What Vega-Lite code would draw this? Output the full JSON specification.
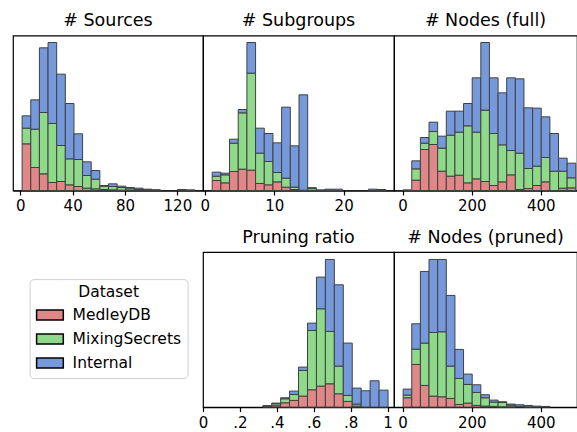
{
  "$schema": "https://vega.github.io/schema/vega-lite/v6.json",
  "background": "white",
  "padding": {"left": 12, "top": 10.5, "right": 0, "bottom": 0},
  "config": {
    "view": {"stroke": "black", "strokeWidth": 1.2},
    "font": "DejaVu Sans",
    "title": {"font": "DejaVu Sans", "fontSize": 17.5, "fontWeight": "normal", "color": "black", "offset": 6, "anchor": "middle", "frame": "group"},
    "axisX": {"grid": false, "title": null, "tickColor": "black", "tickSize": 4.5, "tickWidth": 1.2, "domainColor": "black", "domainWidth": 1.2, "labelFont": "DejaVu Sans", "labelFontSize": 15, "labelColor": "black", "labelPadding": 3.5, "labelFlush": false, "labelOverlap": false}
  },
  "data": {"values": [
    {"p":1,"d":"MedleyDB","b0":1,"b1":7.6,"n":140},{"p":1,"d":"MixingSecrets","b0":1,"b1":7.6,"n":47},{"p":1,"d":"Internal","b0":1,"b1":7.6,"n":37},
    {"p":1,"d":"MedleyDB","b0":7.6,"b1":14.2,"n":69},{"p":1,"d":"MixingSecrets","b0":7.6,"b1":14.2,"n":115},{"p":1,"d":"Internal","b0":7.6,"b1":14.2,"n":88},
    {"p":1,"d":"MedleyDB","b0":14.2,"b1":20.8,"n":50},{"p":1,"d":"MixingSecrets","b0":14.2,"b1":20.8,"n":184},{"p":1,"d":"Internal","b0":14.2,"b1":20.8,"n":194},
    {"p":1,"d":"MedleyDB","b0":20.8,"b1":27.4,"n":24},{"p":1,"d":"MixingSecrets","b0":20.8,"b1":27.4,"n":177},{"p":1,"d":"Internal","b0":20.8,"b1":27.4,"n":243},
    {"p":1,"d":"MedleyDB","b0":27.4,"b1":34,"n":27},{"p":1,"d":"MixingSecrets","b0":27.4,"b1":34,"n":108},{"p":1,"d":"Internal","b0":27.4,"b1":34,"n":214},
    {"p":1,"d":"MedleyDB","b0":34,"b1":40.6,"n":17},{"p":1,"d":"MixingSecrets","b0":34,"b1":40.6,"n":78},{"p":1,"d":"Internal","b0":34,"b1":40.6,"n":166},
    {"p":1,"d":"MedleyDB","b0":40.6,"b1":47.2,"n":12},{"p":1,"d":"MixingSecrets","b0":40.6,"b1":47.2,"n":81},{"p":1,"d":"Internal","b0":40.6,"b1":47.2,"n":77},
    {"p":1,"d":"MedleyDB","b0":47.2,"b1":53.8,"n":7},{"p":1,"d":"MixingSecrets","b0":47.2,"b1":53.8,"n":38},{"p":1,"d":"Internal","b0":47.2,"b1":53.8,"n":41},
    {"p":1,"d":"MedleyDB","b0":53.8,"b1":60.4,"n":5},{"p":1,"d":"MixingSecrets","b0":53.8,"b1":60.4,"n":29},{"p":1,"d":"Internal","b0":53.8,"b1":60.4,"n":26},
    {"p":1,"d":"MedleyDB","b0":60.4,"b1":67,"n":3},{"p":1,"d":"MixingSecrets","b0":60.4,"b1":67,"n":10},{"p":1,"d":"Internal","b0":60.4,"b1":67,"n":2},
    {"p":1,"d":"MedleyDB","b0":67,"b1":73.6,"n":2},{"p":1,"d":"MixingSecrets","b0":67,"b1":73.6,"n":10},{"p":1,"d":"Internal","b0":67,"b1":73.6,"n":8},
    {"p":1,"d":"MedleyDB","b0":73.6,"b1":80.2,"n":1},{"p":1,"d":"MixingSecrets","b0":73.6,"b1":80.2,"n":8},{"p":1,"d":"Internal","b0":73.6,"b1":80.2,"n":4},
    {"p":1,"d":"MixingSecrets","b0":80.2,"b1":86.8,"n":5},{"p":1,"d":"Internal","b0":80.2,"b1":86.8,"n":4},
    {"p":1,"d":"MixingSecrets","b0":86.8,"b1":93.4,"n":3},{"p":1,"d":"Internal","b0":86.8,"b1":93.4,"n":4},
    {"p":1,"d":"MixingSecrets","b0":93.4,"b1":100,"n":2},{"p":1,"d":"Internal","b0":93.4,"b1":100,"n":2},
    {"p":1,"d":"MixingSecrets","b0":100,"b1":106.6,"n":1},{"p":1,"d":"Internal","b0":100,"b1":106.6,"n":1},
    {"p":1,"d":"Internal","b0":119.8,"b1":126.4,"n":3},
    {"p":1,"d":"Internal","b0":126.4,"b1":133,"n":2},

    {"p":2,"d":"MedleyDB","b0":1,"b1":2.25,"n":30},{"p":2,"d":"MixingSecrets","b0":1,"b1":2.25,"n":13},{"p":2,"d":"Internal","b0":1,"b1":2.25,"n":12},
    {"p":2,"d":"MedleyDB","b0":2.25,"b1":3.5,"n":23},{"p":2,"d":"MixingSecrets","b0":2.25,"b1":3.5,"n":24},{"p":2,"d":"Internal","b0":2.25,"b1":3.5,"n":5},
    {"p":2,"d":"MedleyDB","b0":3.5,"b1":4.75,"n":57},{"p":2,"d":"MixingSecrets","b0":3.5,"b1":4.75,"n":85},{"p":2,"d":"Internal","b0":3.5,"b1":4.75,"n":12},
    {"p":2,"d":"MedleyDB","b0":4.75,"b1":6,"n":64},{"p":2,"d":"MixingSecrets","b0":4.75,"b1":6,"n":169},{"p":2,"d":"Internal","b0":4.75,"b1":6,"n":10},
    {"p":2,"d":"MedleyDB","b0":6,"b1":7.25,"n":61},{"p":2,"d":"MixingSecrets","b0":6,"b1":7.25,"n":291},{"p":2,"d":"Internal","b0":6,"b1":7.25,"n":92},
    {"p":2,"d":"MedleyDB","b0":7.25,"b1":8.5,"n":21},{"p":2,"d":"MixingSecrets","b0":7.25,"b1":8.5,"n":91},{"p":2,"d":"Internal","b0":7.25,"b1":8.5,"n":75},
    {"p":2,"d":"MedleyDB","b0":8.5,"b1":9.75,"n":17},{"p":2,"d":"MixingSecrets","b0":8.5,"b1":9.75,"n":70},{"p":2,"d":"Internal","b0":8.5,"b1":9.75,"n":84},
    {"p":2,"d":"MedleyDB","b0":9.75,"b1":11,"n":26},{"p":2,"d":"MixingSecrets","b0":9.75,"b1":11,"n":28},{"p":2,"d":"Internal","b0":9.75,"b1":11,"n":89},
    {"p":2,"d":"MedleyDB","b0":11,"b1":12.25,"n":10},{"p":2,"d":"MixingSecrets","b0":11,"b1":12.25,"n":27},{"p":2,"d":"Internal","b0":11,"b1":12.25,"n":213},
    {"p":2,"d":"MedleyDB","b0":12.25,"b1":13.5,"n":3},{"p":2,"d":"MixingSecrets","b0":12.25,"b1":13.5,"n":7},{"p":2,"d":"Internal","b0":12.25,"b1":13.5,"n":124},
    {"p":2,"d":"MixingSecrets","b0":13.5,"b1":14.75,"n":1},{"p":2,"d":"Internal","b0":13.5,"b1":14.75,"n":286},
    {"p":2,"d":"MedleyDB","b0":14.75,"b1":16,"n":6},{"p":2,"d":"MixingSecrets","b0":14.75,"b1":16,"n":1},{"p":2,"d":"Internal","b0":14.75,"b1":16,"n":1},
    {"p":2,"d":"Internal","b0":16,"b1":17.25,"n":2},
    {"p":2,"d":"MixingSecrets","b0":17.25,"b1":18.5,"n":1},{"p":2,"d":"Internal","b0":17.25,"b1":18.5,"n":3},
    {"p":2,"d":"Internal","b0":18.5,"b1":19.75,"n":4},
    {"p":2,"d":"Internal","b0":23.5,"b1":24.75,"n":4},
    {"p":2,"d":"Internal","b0":24.75,"b1":26,"n":3},

    {"p":3,"d":"MixingSecrets","b0":0,"b1":25,"n":2},
    {"p":3,"d":"MedleyDB","b0":25,"b1":50,"n":31},{"p":3,"d":"MixingSecrets","b0":25,"b1":50,"n":34},{"p":3,"d":"Internal","b0":25,"b1":50,"n":24},
    {"p":3,"d":"MedleyDB","b0":50,"b1":75,"n":123},{"p":3,"d":"MixingSecrets","b0":50,"b1":75,"n":19},{"p":3,"d":"Internal","b0":50,"b1":75,"n":17},
    {"p":3,"d":"MedleyDB","b0":75,"b1":100,"n":138},{"p":3,"d":"MixingSecrets","b0":75,"b1":100,"n":39},{"p":3,"d":"Internal","b0":75,"b1":100,"n":28},
    {"p":3,"d":"MedleyDB","b0":100,"b1":125,"n":58},{"p":3,"d":"MixingSecrets","b0":100,"b1":125,"n":69},{"p":3,"d":"Internal","b0":100,"b1":125,"n":36},
    {"p":3,"d":"MedleyDB","b0":125,"b1":150,"n":43},{"p":3,"d":"MixingSecrets","b0":125,"b1":150,"n":123},{"p":3,"d":"Internal","b0":125,"b1":150,"n":72},
    {"p":3,"d":"MedleyDB","b0":150,"b1":175,"n":46},{"p":3,"d":"MixingSecrets","b0":150,"b1":175,"n":129},{"p":3,"d":"Internal","b0":150,"b1":175,"n":63},
    {"p":3,"d":"MedleyDB","b0":175,"b1":200,"n":23},{"p":3,"d":"MixingSecrets","b0":175,"b1":200,"n":171},{"p":3,"d":"Internal","b0":175,"b1":200,"n":67},
    {"p":3,"d":"MedleyDB","b0":200,"b1":225,"n":35},{"p":3,"d":"MixingSecrets","b0":200,"b1":225,"n":140},{"p":3,"d":"Internal","b0":200,"b1":225,"n":163},
    {"p":3,"d":"MedleyDB","b0":225,"b1":250,"n":27},{"p":3,"d":"MixingSecrets","b0":225,"b1":250,"n":214},{"p":3,"d":"Internal","b0":225,"b1":250,"n":203},
    {"p":3,"d":"MedleyDB","b0":250,"b1":275,"n":15},{"p":3,"d":"MixingSecrets","b0":250,"b1":275,"n":156},{"p":3,"d":"Internal","b0":250,"b1":275,"n":167},
    {"p":3,"d":"MedleyDB","b0":275,"b1":300,"n":26},{"p":3,"d":"MixingSecrets","b0":275,"b1":300,"n":111},{"p":3,"d":"Internal","b0":275,"b1":300,"n":156},
    {"p":3,"d":"MedleyDB","b0":300,"b1":325,"n":47},{"p":3,"d":"MixingSecrets","b0":300,"b1":325,"n":73},{"p":3,"d":"Internal","b0":300,"b1":325,"n":218},
    {"p":3,"d":"MedleyDB","b0":325,"b1":350,"n":3},{"p":3,"d":"MixingSecrets","b0":325,"b1":350,"n":109},{"p":3,"d":"Internal","b0":325,"b1":350,"n":223},
    {"p":3,"d":"MedleyDB","b0":350,"b1":375,"n":6},{"p":3,"d":"MixingSecrets","b0":350,"b1":375,"n":60},{"p":3,"d":"Internal","b0":350,"b1":375,"n":182},
    {"p":3,"d":"MedleyDB","b0":375,"b1":400,"n":15},{"p":3,"d":"MixingSecrets","b0":375,"b1":400,"n":58},{"p":3,"d":"Internal","b0":375,"b1":400,"n":174},
    {"p":3,"d":"MedleyDB","b0":400,"b1":425,"n":26},{"p":3,"d":"MixingSecrets","b0":400,"b1":425,"n":73},{"p":3,"d":"Internal","b0":400,"b1":425,"n":122},
    {"p":3,"d":"MixingSecrets","b0":425,"b1":450,"n":58},{"p":3,"d":"Internal","b0":425,"b1":450,"n":113},
    {"p":3,"d":"MedleyDB","b0":450,"b1":475,"n":7},{"p":3,"d":"MixingSecrets","b0":450,"b1":475,"n":51},{"p":3,"d":"Internal","b0":450,"b1":475,"n":39},
    {"p":3,"d":"MedleyDB","b0":475,"b1":500,"n":8},{"p":3,"d":"MixingSecrets","b0":475,"b1":500,"n":30},{"p":3,"d":"Internal","b0":475,"b1":500,"n":44},

    {"p":4,"d":"MedleyDB","b0":0.321,"b1":0.3695,"n":1},{"p":4,"d":"MixingSecrets","b0":0.321,"b1":0.3695,"n":2},{"p":4,"d":"Internal","b0":0.321,"b1":0.3695,"n":1},
    {"p":4,"d":"MedleyDB","b0":0.3695,"b1":0.418,"n":4},{"p":4,"d":"MixingSecrets","b0":0.3695,"b1":0.418,"n":6},{"p":4,"d":"Internal","b0":0.3695,"b1":0.418,"n":2},
    {"p":4,"d":"MedleyDB","b0":0.418,"b1":0.4665,"n":13},{"p":4,"d":"MixingSecrets","b0":0.418,"b1":0.4665,"n":12},{"p":4,"d":"Internal","b0":0.418,"b1":0.4665,"n":3},
    {"p":4,"d":"MedleyDB","b0":0.4665,"b1":0.515,"n":20},{"p":4,"d":"MixingSecrets","b0":0.4665,"b1":0.515,"n":18},{"p":4,"d":"Internal","b0":0.4665,"b1":0.515,"n":10},
    {"p":4,"d":"MedleyDB","b0":0.515,"b1":0.5635,"n":33},{"p":4,"d":"MixingSecrets","b0":0.515,"b1":0.5635,"n":77},{"p":4,"d":"Internal","b0":0.515,"b1":0.5635,"n":10},
    {"p":4,"d":"MedleyDB","b0":0.5635,"b1":0.612,"n":52},{"p":4,"d":"MixingSecrets","b0":0.5635,"b1":0.612,"n":178},{"p":4,"d":"Internal","b0":0.5635,"b1":0.612,"n":22},
    {"p":4,"d":"MedleyDB","b0":0.612,"b1":0.6605,"n":63},{"p":4,"d":"MixingSecrets","b0":0.612,"b1":0.6605,"n":232},{"p":4,"d":"Internal","b0":0.612,"b1":0.6605,"n":95},
    {"p":4,"d":"MedleyDB","b0":0.6605,"b1":0.709,"n":70},{"p":4,"d":"MixingSecrets","b0":0.6605,"b1":0.709,"n":157},{"p":4,"d":"Internal","b0":0.6605,"b1":0.709,"n":216},
    {"p":4,"d":"MedleyDB","b0":0.709,"b1":0.7575,"n":40},{"p":4,"d":"MixingSecrets","b0":0.709,"b1":0.7575,"n":83},{"p":4,"d":"Internal","b0":0.709,"b1":0.7575,"n":244},
    {"p":4,"d":"MedleyDB","b0":0.7575,"b1":0.806,"n":17},{"p":4,"d":"MixingSecrets","b0":0.7575,"b1":0.806,"n":18},{"p":4,"d":"Internal","b0":0.7575,"b1":0.806,"n":157},
    {"p":4,"d":"MedleyDB","b0":0.806,"b1":0.8545,"n":3},{"p":4,"d":"MixingSecrets","b0":0.806,"b1":0.8545,"n":6},{"p":4,"d":"Internal","b0":0.806,"b1":0.8545,"n":48},
    {"p":4,"d":"Internal","b0":0.8545,"b1":0.903,"n":49},
    {"p":4,"d":"Internal","b0":0.903,"b1":0.9515,"n":79},
    {"p":4,"d":"Internal","b0":0.9515,"b1":1.0,"n":51},

    {"p":5,"d":"MedleyDB","b0":0,"b1":25,"n":28},{"p":5,"d":"MixingSecrets","b0":0,"b1":25,"n":8},{"p":5,"d":"Internal","b0":0,"b1":25,"n":18},
    {"p":5,"d":"MedleyDB","b0":25,"b1":50,"n":128},{"p":5,"d":"MixingSecrets","b0":25,"b1":50,"n":46},{"p":5,"d":"Internal","b0":25,"b1":50,"n":76},
    {"p":5,"d":"MedleyDB","b0":50,"b1":75,"n":65},{"p":5,"d":"MixingSecrets","b0":50,"b1":75,"n":127},{"p":5,"d":"Internal","b0":50,"b1":75,"n":215},
    {"p":5,"d":"MedleyDB","b0":75,"b1":100,"n":33},{"p":5,"d":"MixingSecrets","b0":75,"b1":100,"n":191},{"p":5,"d":"Internal","b0":75,"b1":100,"n":219},
    {"p":5,"d":"MedleyDB","b0":100,"b1":125,"n":31},{"p":5,"d":"MixingSecrets","b0":100,"b1":125,"n":195},{"p":5,"d":"Internal","b0":100,"b1":125,"n":217},
    {"p":5,"d":"MedleyDB","b0":125,"b1":150,"n":26},{"p":5,"d":"MixingSecrets","b0":125,"b1":150,"n":97},{"p":5,"d":"Internal","b0":125,"b1":150,"n":212},
    {"p":5,"d":"MedleyDB","b0":150,"b1":175,"n":8},{"p":5,"d":"MixingSecrets","b0":150,"b1":175,"n":78},{"p":5,"d":"Internal","b0":150,"b1":175,"n":87},
    {"p":5,"d":"MedleyDB","b0":175,"b1":200,"n":12},{"p":5,"d":"MixingSecrets","b0":175,"b1":200,"n":56},{"p":5,"d":"Internal","b0":175,"b1":200,"n":31},
    {"p":5,"d":"MedleyDB","b0":200,"b1":225,"n":5},{"p":5,"d":"MixingSecrets","b0":200,"b1":225,"n":39},{"p":5,"d":"Internal","b0":200,"b1":225,"n":23},
    {"p":5,"d":"MedleyDB","b0":225,"b1":250,"n":3},{"p":5,"d":"MixingSecrets","b0":225,"b1":250,"n":25},{"p":5,"d":"Internal","b0":225,"b1":250,"n":9},
    {"p":5,"d":"MedleyDB","b0":250,"b1":275,"n":2},{"p":5,"d":"MixingSecrets","b0":250,"b1":275,"n":13},{"p":5,"d":"Internal","b0":250,"b1":275,"n":6},
    {"p":5,"d":"MedleyDB","b0":275,"b1":300,"n":1},{"p":5,"d":"MixingSecrets","b0":275,"b1":300,"n":13},{"p":5,"d":"Internal","b0":275,"b1":300,"n":2},
    {"p":5,"d":"MedleyDB","b0":300,"b1":325,"n":1},{"p":5,"d":"MixingSecrets","b0":300,"b1":325,"n":5},{"p":5,"d":"Internal","b0":300,"b1":325,"n":3},
    {"p":5,"d":"MixingSecrets","b0":325,"b1":350,"n":2},{"p":5,"d":"Internal","b0":325,"b1":350,"n":5},
    {"p":5,"d":"MixingSecrets","b0":350,"b1":375,"n":1},{"p":5,"d":"Internal","b0":350,"b1":375,"n":4},
    {"p":5,"d":"Internal","b0":375,"b1":400,"n":3},
    {"p":5,"d":"Internal","b0":400,"b1":425,"n":2}
  ]},
  "columns": 3,
  "spacing": {"row": 61.6, "column": 0},
  "bounds": "flush",
  "align": "each",
  "resolve": {"legend": {"color": "independent"}},
  "concat": [
    {
      "title": "# Sources", "width": 190, "height": 155,
      "transform": [{"filter": "datum.p == 1"}, {"calculate": "indexof(['MedleyDB','MixingSecrets','Internal'], datum.d)", "as": "k"}],
      "mark": {"type": "bar", "binSpacing": 0, "stroke": "#404040", "strokeWidth": 1},
      "encoding": {
        "x": {"field": "b0", "type": "quantitative", "bin": "binned", "scale": {"domain": [-5.6, 139.6], "nice": false, "zero": false}, "axis": {"values": [0, 40, 80, 120]}},
        "x2": {"field": "b1"},
        "y": {"field": "n", "type": "quantitative", "stack": "zero", "scale": {"domain": [0, 465], "nice": false}, "axis": null},
        "order": {"field": "k", "type": "quantitative"},
        "color": {"field": "d", "type": "nominal", "scale": {"domain": ["MedleyDB", "MixingSecrets", "Internal"], "range": ["#e08787", "#8fd98b", "#7699dc"]}, "legend": null}
      }
    },
    {
      "title": "# Subgroups", "width": 191, "height": 155,
      "transform": [{"filter": "datum.p == 2"}, {"calculate": "indexof(['MedleyDB','MixingSecrets','Internal'], datum.d)", "as": "k"}],
      "mark": {"type": "bar", "binSpacing": 0, "stroke": "#404040", "strokeWidth": 1},
      "encoding": {
        "x": {"field": "b0", "type": "quantitative", "bin": "binned", "scale": {"domain": [-0.25, 27.25], "nice": false, "zero": false}, "axis": {"values": [0, 10, 20]}},
        "x2": {"field": "b1"},
        "y": {"field": "n", "type": "quantitative", "stack": "zero", "scale": {"domain": [0, 465], "nice": false}, "axis": null},
        "order": {"field": "k", "type": "quantitative"},
        "color": {"field": "d", "type": "nominal", "scale": {"domain": ["MedleyDB", "MixingSecrets", "Internal"], "range": ["#e08787", "#8fd98b", "#7699dc"]}, "legend": null}
      }
    },
    {
      "title": "# Nodes (full)", "width": 183, "height": 155,
      "transform": [{"filter": "datum.p == 3"}, {"calculate": "indexof(['MedleyDB','MixingSecrets','Internal'], datum.d)", "as": "k"}],
      "mark": {"type": "bar", "binSpacing": 0, "stroke": "#404040", "strokeWidth": 1},
      "encoding": {
        "x": {"field": "b0", "type": "quantitative", "bin": "binned", "scale": {"domain": [-25, 505], "nice": false, "zero": false}, "axis": {"values": [0, 200, 400]}},
        "x2": {"field": "b1"},
        "y": {"field": "n", "type": "quantitative", "stack": "zero", "scale": {"domain": [0, 465], "nice": false}, "axis": null},
        "order": {"field": "k", "type": "quantitative"},
        "color": {"field": "d", "type": "nominal", "scale": {"domain": ["MedleyDB", "MixingSecrets", "Internal"], "range": ["#e08787", "#8fd98b", "#7699dc"]}, "legend": null}
      }
    },
    {
      "width": 190, "height": 155,
      "view": {"stroke": null},
      "transform": [{"filter": "datum.p == 0"}],
      "mark": {"type": "bar", "stroke": "black"},
      "encoding": {
        "color": {"field": "d", "type": "nominal", "scale": {"domain": ["MedleyDB", "MixingSecrets", "Internal"], "range": ["#e08787", "#8fd98b", "#7699dc"]},
          "legend": {"title": "Dataset", "orient": "none", "legendX": 16.6, "legendY": 27, "direction": "vertical",
            "titleFont": "DejaVu Sans", "titleFontSize": 15.5, "titleFontWeight": "normal", "titleColor": "black", "titleAnchor": "middle", "titlePadding": 6,
            "labelFont": "DejaVu Sans", "labelFontSize": 15.5, "labelColor": "black", "labelOffset": 20,
            "symbolType": "M-1,-0.667L2.56,-0.667L2.56,0.667L-1,0.667Z", "symbolSize": 225, "symbolStrokeColor": "black", "symbolStrokeWidth": 1.5, "symbolOpacity": 1,
            "rowPadding": 7, "padding": 6, "strokeColor": "#d0d0d0", "fillColor": "white", "cornerRadius": 4}}
      }
    },
    {
      "title": "Pruning ratio", "width": 191, "height": 155,
      "transform": [{"filter": "datum.p == 4"}, {"calculate": "indexof(['MedleyDB','MixingSecrets','Internal'], datum.d)", "as": "k"}],
      "mark": {"type": "bar", "binSpacing": 0, "stroke": "#404040", "strokeWidth": 1},
      "encoding": {
        "x": {"field": "b0", "type": "quantitative", "bin": "binned", "scale": {"domain": [0, 1.035], "nice": false, "zero": false}, "axis": {"values": [0, 0.2, 0.4, 0.6, 0.8, 1], "labelExpr": "datum.value == 0 ? '0' : datum.value == 1 ? '1' : replace(format(datum.value, '.1f'), '0.', '.')"}},
        "x2": {"field": "b1"},
        "y": {"field": "n", "type": "quantitative", "stack": "zero", "scale": {"domain": [0, 465], "nice": false}, "axis": null},
        "order": {"field": "k", "type": "quantitative"},
        "color": {"field": "d", "type": "nominal", "scale": {"domain": ["MedleyDB", "MixingSecrets", "Internal"], "range": ["#e08787", "#8fd98b", "#7699dc"]}, "legend": null}
      }
    },
    {
      "title": "# Nodes (pruned)", "width": 183, "height": 155,
      "transform": [{"filter": "datum.p == 5"}, {"calculate": "indexof(['MedleyDB','MixingSecrets','Internal'], datum.d)", "as": "k"}],
      "mark": {"type": "bar", "binSpacing": 0, "stroke": "#404040", "strokeWidth": 1},
      "encoding": {
        "x": {"field": "b0", "type": "quantitative", "bin": "binned", "scale": {"domain": [-25, 505], "nice": false, "zero": false}, "axis": {"values": [0, 200, 400]}},
        "x2": {"field": "b1"},
        "y": {"field": "n", "type": "quantitative", "stack": "zero", "scale": {"domain": [0, 465], "nice": false}, "axis": null},
        "order": {"field": "k", "type": "quantitative"},
        "color": {"field": "d", "type": "nominal", "scale": {"domain": ["MedleyDB", "MixingSecrets", "Internal"], "range": ["#e08787", "#8fd98b", "#7699dc"]}, "legend": null}
      }
    }
  ]
}
